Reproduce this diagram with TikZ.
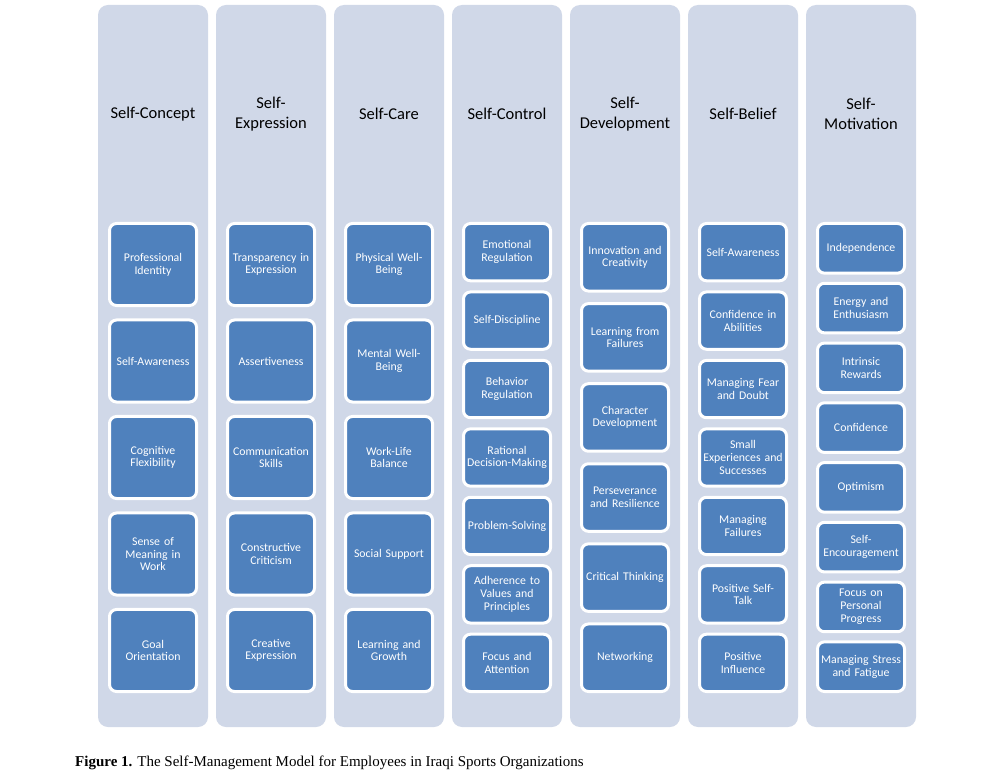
\documentclass[tikz,border=0pt]{standalone}
\usepackage{fontspec}
\setmainfont{Carlito}
\newfontfamily\capfont{Liberation Serif}
\definecolor{colbg}{HTML}{D0D8E8}
\definecolor{boxfill}{HTML}{4F81BD}
\tikzset{
  colbox/.style={fill=colbg, rounded corners=10pt, draw=none, inner sep=0pt, minimum width=110pt, minimum height=722pt},
  itembox/.style={fill=boxfill, draw=white, line width=3pt, rounded corners=7pt, text=white, align=center,
    font=\fontsize{11.8}{12.7}\selectfont, minimum width=87pt, text width=84pt, inner sep=0pt},
  coltitle/.style={align=center, font=\fontsize{16.5}{19.5}\selectfont, text=black},
  captext/.style={anchor=base west, font=\capfont\fontsize{15}{17}\selectfont, inner sep=0pt},
}
\newcommand{\smcolumn}[4]{%
  \pgfmathsetmacro{\cx}{153+118*#1}
  \node[colbox] (col#1) at (\cx,366) {};
  \node[coltitle] (t#1) at (\cx,114) {#3};
  \pgfmathsetmacro{\bh}{471/(#2+0.135*(#2-1))}
  \pgfmathsetmacro{\bs}{(471-\bh)/(#2-1)}
  \foreach \txt [count=\j from 0] in {#4} {
    \pgfmathsetmacro{\by}{222+\bh/2+\j*\bs}
    \node[itembox, minimum height=\bh-3] (b#1-\j) at (\cx,\by) {\txt};
  }
}
\begin{document}
\begin{tikzpicture}[x=1pt,y=-1pt]
\fill[white] (0,0) rectangle (988,770);
\useasboundingbox (0,0) rectangle (988,770);
\smcolumn{0}{5}{Self-Concept}{Professional\\Identity, Self-Awareness, Cognitive\\Flexibility, Sense of\\Meaning in\\Work, Goal\\Orientation}
\smcolumn{1}{5}{Self-\\Expression}{Transparency in\\Expression, Assertiveness, Communication\\Skills, Constructive\\Criticism, Creative\\Expression}
\smcolumn{2}{5}{Self-Care}{Physical Well-\\Being, Mental Well-\\Being, Work-Life\\Balance, Social Support, Learning and\\Growth}
\smcolumn{3}{7}{Self-Control}{Emotional\\Regulation, Self-Discipline, Behavior\\Regulation, Rational\\Decision-Making, Problem-Solving, Adherence to\\Values and\\Principles, Focus and\\Attention}
\smcolumn{4}{6}{Self-\\Development}{Innovation and\\Creativity, Learning from\\Failures, Character\\Development, Perseverance\\and Resilience, Critical Thinking, Networking}
\smcolumn{5}{7}{Self-Belief}{Self-Awareness, Confidence in\\Abilities, Managing Fear\\and Doubt, Small\\Experiences and\\Successes, Managing\\Failures, Positive Self-\\Talk, Positive\\Influence}
\smcolumn{6}{8}{Self-\\Motivation}{Independence, Energy and\\Enthusiasm, Intrinsic\\Rewards, Confidence, Optimism, Self-\\Encouragement, Focus on\\Personal\\Progress, Managing Stress\\and Fatigue}
\node[captext] (cap) at (75,766.5) {\textbf{Figure 1.} The Self-Management Model for Employees in Iraqi Sports Organizations};
\end{tikzpicture}
\end{document}
